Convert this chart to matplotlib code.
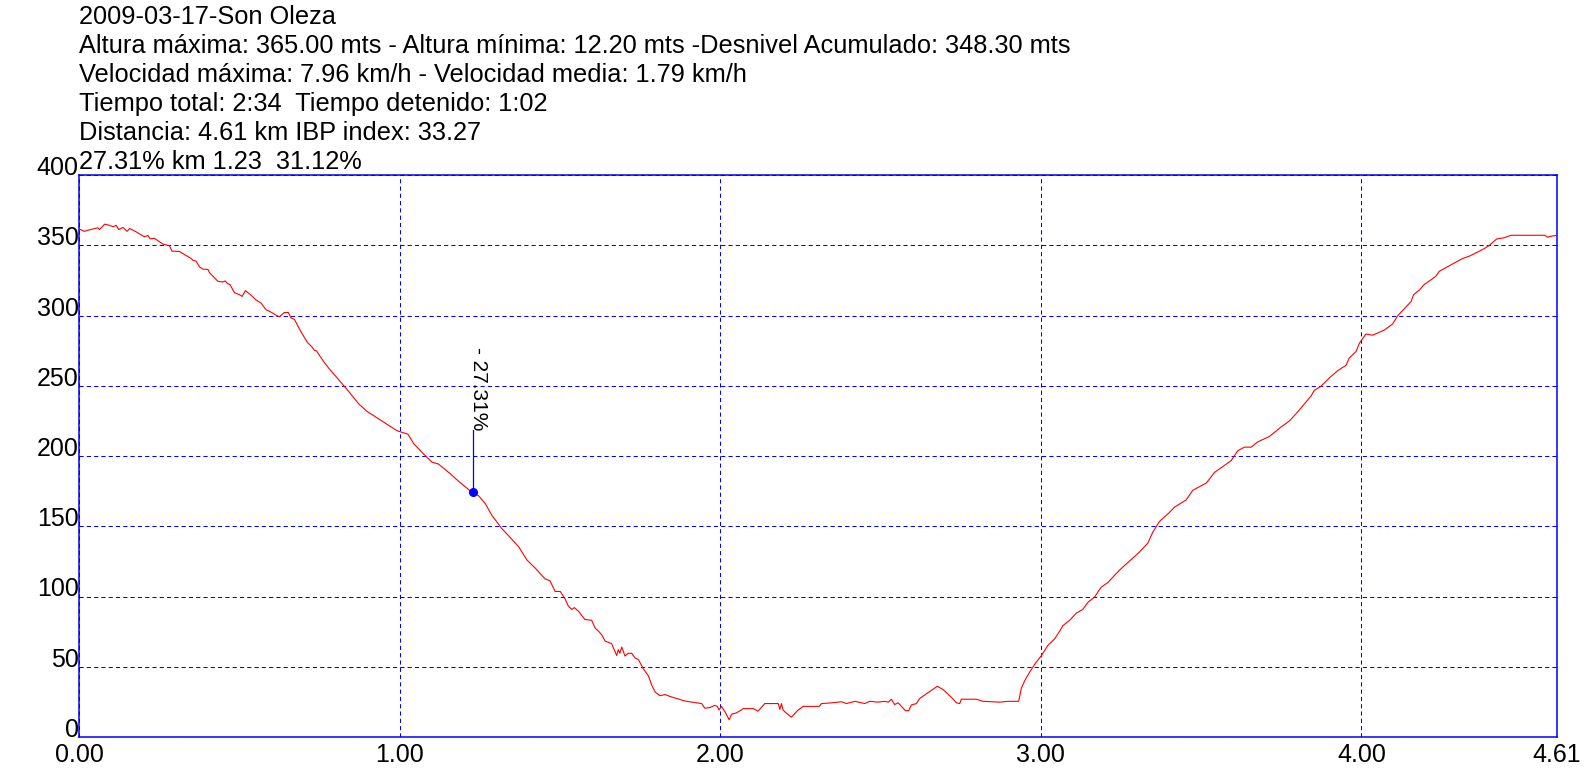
import matplotlib
matplotlib.use("Agg")
import matplotlib.pyplot as plt

plt.rcParams['font.family'] = ['Liberation Sans', 'DejaVu Sans']

# ---- data ----
distance_km = [
    0.000, 0.017, 0.033, 0.059, 0.064, 0.080, 0.095, 0.106, 0.116, 0.124, 0.137, 0.150, 0.158,
    0.178, 0.204, 0.215, 0.222, 0.235, 0.261, 0.282, 0.290, 0.313, 0.332, 0.350, 0.355, 0.365,
    0.376, 0.386, 0.402, 0.407, 0.433, 0.448, 0.456, 0.464, 0.471, 0.479, 0.485, 0.500, 0.509,
    0.519, 0.537, 0.552, 0.568, 0.583, 0.599, 0.614, 0.625, 0.640, 0.653, 0.661, 0.672, 0.687,
    0.700, 0.713, 0.726, 0.734, 0.741, 0.752, 0.765, 0.779,
    0.810, 0.836, 0.872, 0.898, 0.945, 0.992, 1.026, 1.044, 1.070, 1.101, 1.121, 1.158, 1.184,
    1.225, 1.246, 1.267, 1.288, 1.319, 1.340, 1.371, 1.397, 1.423, 1.454, 1.469, 1.485, 1.501,
    1.516, 1.526, 1.537, 1.545,
    1.558, 1.578, 1.599, 1.610, 1.620, 1.630, 1.641, 1.661, 1.677, 1.682, 1.687, 1.693, 1.703,
    1.713, 1.724, 1.734, 1.745, 1.760, 1.776, 1.786, 1.797, 1.812, 1.828, 1.843, 1.864, 1.890,
    1.926, 1.942, 1.952, 1.968, 1.983, 1.991, 1.996, 2.004, 2.015, 2.028, 2.035, 2.051, 2.072,
    2.103, 2.118, 2.139, 2.181, 2.186, 2.191, 2.196, 2.205, 2.222, 2.243, 2.259, 2.309,
    2.316, 2.347, 2.378, 2.394, 2.420, 2.451, 2.466, 2.492, 2.513, 2.524, 2.534, 2.544, 2.555,
    2.578, 2.588, 2.596, 2.612, 2.622, 2.648, 2.677, 2.695, 2.721, 2.737, 2.747, 2.752, 2.799,
    2.820, 2.872, 2.898, 2.931, 2.939, 2.950, 2.965, 2.983, 3.002, 3.022, 3.043, 3.059,
    3.069, 3.090, 3.111, 3.131, 3.147, 3.168, 3.188, 3.209, 3.246, 3.277, 3.308, 3.334, 3.349,
    3.370, 3.401, 3.417, 3.453, 3.474, 3.516, 3.542, 3.568, 3.594, 3.614, 3.635, 3.656, 3.677,
    3.713, 3.749, 3.775, 3.801, 3.822,
    3.843, 3.853, 3.874, 3.900, 3.926, 3.952, 3.962, 3.983, 3.994, 4.014, 4.035, 4.071, 4.097,
    4.113, 4.134, 4.155, 4.163, 4.181, 4.196, 4.217, 4.232, 4.243, 4.269, 4.290, 4.315, 4.336,
    4.362, 4.383, 4.399, 4.422, 4.445, 4.466, 4.572, 4.580, 4.596, 4.610,
]
elevation_m = [
    361.6, 359.9, 361.0, 362.4, 361.2, 365.0, 364.2, 363.2, 364.2, 361.2, 362.7, 359.9, 361.9,
    359.6, 356.0, 357.0, 354.5, 355.0, 350.9, 349.7, 345.8, 345.6, 343.0, 340.5, 339.4, 338.7,
    334.6, 333.0, 332.8, 330.5, 324.4, 323.8, 324.6, 322.6, 322.0, 318.7, 316.2, 314.9, 313.6,
    317.7, 314.4, 311.1, 308.8, 304.2, 302.4, 300.3, 299.1, 302.1, 302.1, 298.3, 297.3, 290.6,
    285.5, 280.7, 277.8, 275.3, 274.8, 270.9, 266.6, 262.5,
    254.3, 247.4, 237.2, 231.8, 224.9, 218.0, 215.5, 208.8, 202.5, 195.6, 194.3, 187.4, 182.0,
    174.3, 171.8, 166.2, 157.7, 148.3, 143.2, 135.5, 126.0, 120.2, 112.5, 111.2, 103.6, 103.6,
    98.4, 93.3, 90.8, 92.1,
    89.5, 83.6, 83.1, 77.5, 75.4, 72.9, 68.3, 66.5, 58.0, 62.2, 59.6, 64.0, 57.6,
    59.6, 59.6, 56.3, 55.0, 48.6, 43.5, 37.1, 32.0, 29.4, 30.2, 28.9, 27.4, 25.6,
    24.3, 23.8, 20.5, 21.0, 22.5, 21.8, 19.2, 21.8, 17.9, 12.2, 16.2, 17.2, 20.2,
    20.2, 18.4, 23.8, 23.8, 19.7, 23.8, 19.2, 17.2, 14.1, 19.2, 21.8, 21.8,
    23.8, 24.3, 25.1, 23.8, 25.4, 23.8, 25.4, 24.8, 25.4, 24.8, 26.9, 23.1, 24.3,
    18.7, 18.7, 22.8, 23.8, 27.4, 31.5, 36.1, 33.8, 28.2, 24.3, 23.8, 26.9, 26.9,
    25.4, 24.8, 25.4, 25.4, 34.6, 40.2, 46.1, 52.4, 58.0, 65.2, 69.8, 75.4,
    79.3, 83.1, 88.2, 90.8, 95.9, 99.7, 106.6, 109.9, 118.9, 125.3, 131.7, 138.1, 145.7,
    153.4, 159.8, 163.6, 168.7, 175.6, 180.7, 188.4, 192.5, 196.8, 203.7, 206.3, 206.3, 210.1,
    213.9, 220.6, 224.9, 231.3, 237.0,
    242.8, 246.7, 249.7, 255.6, 260.7, 264.6, 269.7, 274.3, 280.4, 286.8, 286.0, 289.6, 293.9,
    299.8, 304.9, 310.0, 314.9, 318.2, 322.1, 325.4, 327.9, 331.5, 334.8, 337.4, 340.5, 342.2,
    345.1, 347.6, 349.9, 354.5, 355.3, 357.1, 357.1, 355.8, 356.6, 357.1,
]

x_ticks = [0.0, 1.0, 2.0, 3.0, 4.0, 4.61]
x_tick_labels = ["0.00", "1.00", "2.00", "3.00", "4.00", "4.61"]
y_ticks = [0, 50, 100, 150, 200, 250, 300, 350, 400]
y_tick_labels = ["0", "50", "100", "150", "200", "250", "300", "350", "400"]

marker_km = 1.23
marker_elev = 174.5
marker_label_top = 218.5
marker_label = "- 27.31%"

header_lines = [
    "2009-03-17-Son Oleza",
    "Altura máxima: 365.00 mts - Altura mínima: 12.20 mts -Desnivel Acumulado: 348.30 mts",
    "Velocidad máxima: 7.96 km/h - Velocidad media: 1.79 km/h",
    "Tiempo total: 2:34  Tiempo detenido: 1:02",
    "Distancia: 4.61 km IBP index: 33.27",
    "27.31% km 1.23  31.12%",
]

# ---- figure ----
W, H = 1596, 776
fig = plt.figure(figsize=(W / 100, H / 100), dpi=100)
fig.patch.set_facecolor("white")

left, right, top, bottom = 79, 1557, 175, 737
ax = fig.add_axes([left / W, (H - bottom) / H, (right - left) / W, (bottom - top) / H])

FS = 18
FS_HEAD = 18.3
BLUE = "#0000FF"

ax.plot(distance_km, elevation_m, color="#FF0000", lw=0.8, zorder=3)

ax.set_xlim(0, 4.61)
ax.set_ylim(0, 400)

ax.set_xticks(x_ticks)
ax.set_xticklabels(x_tick_labels, fontsize=FS)
ax.set_yticks(y_ticks)
ax.set_yticklabels(y_tick_labels, fontsize=FS)
for lbl in ax.get_yticklabels():
    lbl.set_va("baseline")
ax.tick_params(axis="both", length=0)
ax.tick_params(axis="x", pad=4.5)
ax.tick_params(axis="y", pad=0.3)

ax.grid(True, color=BLUE, linestyle=(0, (4, 3)), lw=0.75)
ax.set_axisbelow(True)
for s in ax.spines.values():
    s.set_color(BLUE)
    s.set_linewidth(1.1)

# marker annotation
ax.plot([marker_km, marker_km], [marker_elev, marker_label_top], color=BLUE, lw=0.9, zorder=4)
ax.plot([marker_km], [marker_elev], "o", color=BLUE, ms=5.5, zorder=5)
ax.text(marker_km, marker_label_top, marker_label, rotation=-90, rotation_mode="anchor",
        ha="right", va="baseline", fontsize=15, color="black", zorder=5)

# header text
baselines = [24, 53, 82, 111, 140, 169]
for line, yb in zip(header_lines, baselines):
    fig.text(79 / W, 1 - yb / H, line, ha="left", va="baseline", fontsize=FS_HEAD, color="black")

fig.savefig("out.png", dpi=100, facecolor="white")
